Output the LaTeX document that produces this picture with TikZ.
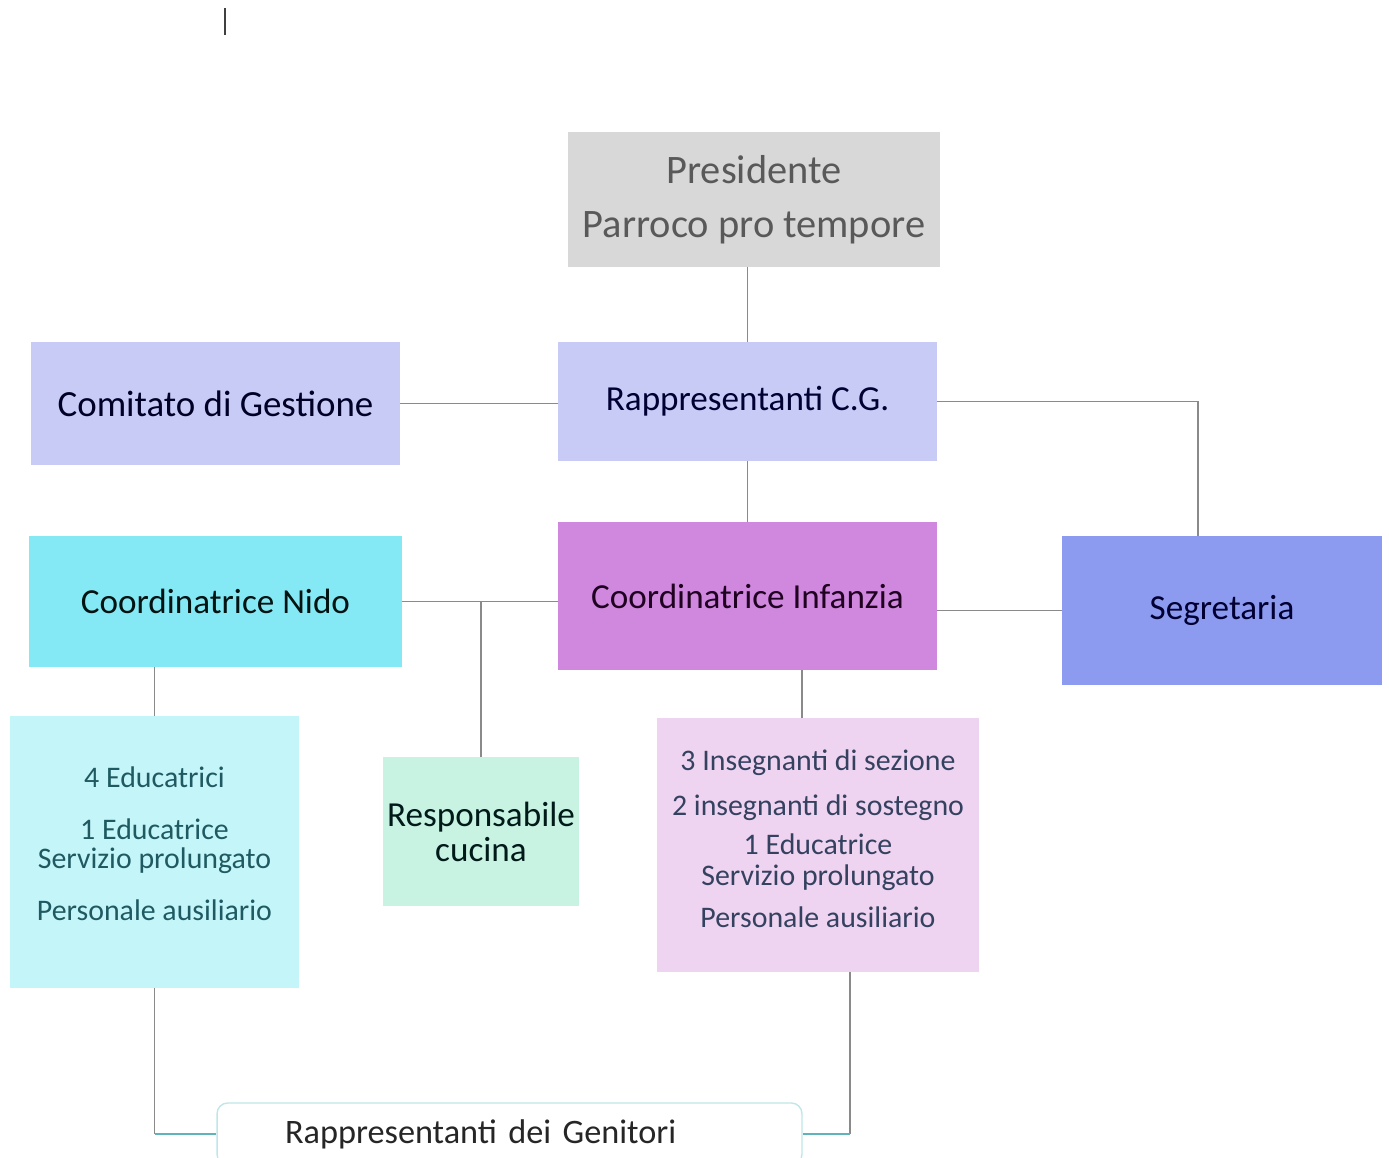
\documentclass[tikz,border=0pt]{standalone}
\usepackage{fontspec}
\setmainfont{Carlito}
\usetikzlibrary{positioning}

\definecolor{presfill}{HTML}{D8D8D8}
\definecolor{prestext}{HTML}{595959}
\definecolor{cgfill}{HTML}{C7CBF6}
\definecolor{nidofill}{HTML}{84E9F5}
\definecolor{inffill}{HTML}{CF88DE}
\definecolor{segrfill}{HTML}{8C9BEF}
\definecolor{nidostafffill}{HTML}{C4F5F9}
\definecolor{cucinafill}{HTML}{C8F2E2}
\definecolor{infstafffill}{HTML}{EFD4F2}
\definecolor{infstafftext}{HTML}{34425F}
\definecolor{nidostafftext}{HTML}{1F5A62}
\definecolor{genborder}{HTML}{BFE6EA}
\definecolor{linkgray}{HTML}{8A8A8A}
\definecolor{linkteal}{HTML}{5FB3BB}

\tikzset{
  box/.style={rectangle, inner sep=0pt, align=center},
  link/.style={draw=linkgray, line width=0.9pt},
}

\begin{document}
\begin{tikzpicture}[x=0.02cm, y=-0.02cm]
        \useasboundingbox (0,0) rectangle (1389,1158);

        % stray mark
        \draw[black!75, line width=0.8pt] (225,8) -- (225,35);

        % Draw boxes
        \node[box, fill=presfill, text=prestext, minimum width=7.44cm, minimum height=2.7cm,
              font=\fontsize{23}{27}\selectfont] (pres) at (754, 199.5) {Presidente\\[4pt]Parroco pro tempore};
        \node[box, fill=cgfill, text=black!85!blue, minimum width=7.38cm, minimum height=2.46cm,
              font=\fontsize{21}{25}\selectfont] (comitato) at (215.5, 403.5) {Comitato di Gestione};
        \node[box, fill=cgfill, text=black!80!blue, minimum width=7.58cm, minimum height=2.38cm,
              font=\fontsize{20}{24}\selectfont] (rapp) at (747.5, 401.5) {Rappresentanti C.G.};
        \node[box, fill=nidofill, text=black!85!teal, minimum width=7.46cm, minimum height=2.62cm,
              font=\fontsize{20}{24}\selectfont] (nido) at (215.5, 601.5) {Coordinatrice Nido};
        \node[box, fill=inffill, text=black!75!violet, minimum width=7.58cm, minimum height=2.96cm,
              font=\fontsize{20}{24}\selectfont] (infanzia) at (747.5, 596) {Coordinatrice Infanzia};
        \node[box, fill=segrfill, text=black!80!blue, minimum width=6.4cm, minimum height=2.98cm,
              font=\fontsize{20}{24}\selectfont] (segr) at (1222, 610.5) {Segretaria};
        \node[box, fill=nidostafffill, text=nidostafftext, minimum width=5.78cm, minimum height=5.44cm,
              font=\fontsize{17}{16.5}\selectfont] (nidostaff) at (154.5, 852)
              {4 Educatrici\\[13pt]1 Educatrice\\Servizio prolungato\\[13pt]Personale ausiliario\\[-7pt]\mbox{}};
        \node[box, fill=cucinafill, text=black!80!teal, minimum width=3.92cm, minimum height=2.98cm,
              font=\fontsize{20}{20}\selectfont] (cucina) at (481, 831.5) {Responsabile\\cucina};
        \node[box, fill=infstafffill, text=infstafftext, minimum width=6.44cm, minimum height=5.08cm,
              font=\fontsize{17}{17.6}\selectfont] (infstaff) at (818, 845)
              {3 Insegnanti di sezione\\[8pt]2 insegnanti di sostegno\\[4.6pt]1 Educatrice\\Servizio prolungato\\[6.3pt]Personale ausiliario\\[-10pt]\mbox{}};
        \node[draw=genborder, fill=white, line width=0.8pt, rounded corners=6pt, inner xsep=1.36cm, inner ysep=0pt,
              text width=8.98cm, align=left, minimum height=1.24cm, text=black!85,
              font=\fontsize{19.5}{23}\selectfont] (gen) at (509.5, 1134) {Rappresentanti dei Genitori};

        % Draw communication lines
        \draw[link] (rapp.north) -- (rapp.north |- pres.south);
        \draw[link] (comitato.east) -- (comitato.east -| rapp.west);
        \draw[link] (rapp.east) -| ([xshift=-0.48cm]segr.north);
        \draw[link] (infanzia.north) -- (rapp.south);
        \draw[link] (nido.east) -- (nido.east -| infanzia.west);
        \draw[link] (cucina.north) -- (cucina.north |- nido.east);
        \draw[link] (segr.west) -- (segr.west -| infanzia.east);
        \draw[link] (nidostaff.north) -- (nidostaff.north |- nido.south);
        \draw[link] ([xshift=-0.32cm]infstaff.north) -- ([xshift=-0.32cm]infstaff.north |- infanzia.south);

        \coordinate (nidocorner) at (nidostaff.south |- gen.west);
        \coordinate (infcorner) at ([xshift=0.64cm]infstaff.south |- gen.east);
        \draw[link] (nidostaff.south) -- (nidocorner);
        \draw[link, draw=linkteal] (nidocorner) -- (gen.west);
        \draw[link] ([xshift=0.64cm]infstaff.south) -- (infcorner);
        \draw[link, draw=linkteal] (infcorner) -- (gen.east);
    \end{tikzpicture}
\end{document}
